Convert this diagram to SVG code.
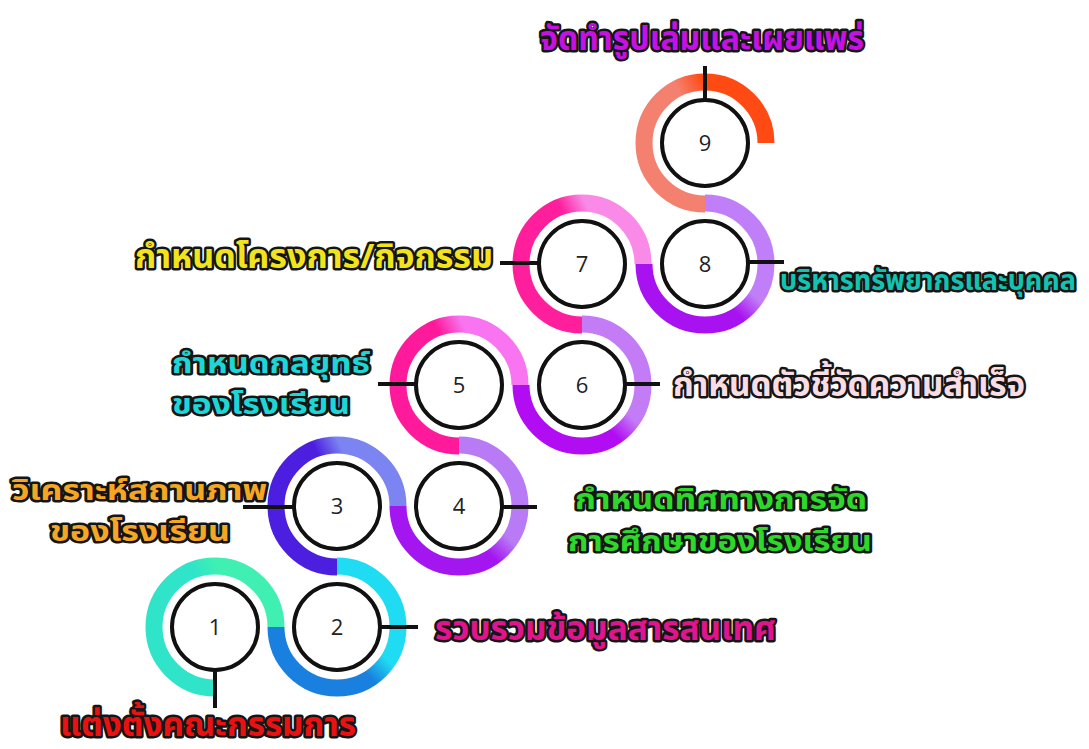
<svg xmlns="http://www.w3.org/2000/svg" width="1089" height="749" viewBox="0 0 1089 749">
<style>
.ring{fill:none;stroke-width:17;}
.disc{fill:#fff;stroke:#111;stroke-width:4;}
.num{font-family:"Open Sans","Noto Sans","DejaVu Sans",sans-serif;font-size:22px;fill:#222;text-anchor:middle;}
.lbl{font-family:"Noto Sans Thai","Noto Sans","DejaVu Sans",sans-serif;font-size:34px;font-weight:bold;stroke:#151515;stroke-width:5;stroke-linejoin:round;paint-order:stroke;}
.two{font-size:29px;}
.tick{stroke:#111;stroke-width:4;fill:none;}
</style>
<defs>
<linearGradient id="gu1" x1="0.053" y1="0.724" x2="0.947" y2="0.276"><stop offset="0.55" stop-color="#2fe4c8"/><stop offset="0.75" stop-color="#40f0b2"/></linearGradient>
<linearGradient id="gn2" x1="0.146" y1="0.854" x2="0.854" y2="0.146"><stop offset="0.4" stop-color="#1a80e0"/><stop offset="0.6" stop-color="#20dcf2"/></linearGradient>
<linearGradient id="gu3" x1="0.053" y1="0.724" x2="0.947" y2="0.276"><stop offset="0.55" stop-color="#4c1ee0"/><stop offset="0.75" stop-color="#7c84f2"/></linearGradient>
<linearGradient id="gn4" x1="0.146" y1="0.854" x2="0.854" y2="0.146"><stop offset="0.4" stop-color="#a416f0"/><stop offset="0.6" stop-color="#b87af5"/></linearGradient>
<linearGradient id="gu5" x1="0.053" y1="0.724" x2="0.947" y2="0.276"><stop offset="0.55" stop-color="#ff1a9c"/><stop offset="0.75" stop-color="#f874f0"/></linearGradient>
<linearGradient id="gn6" x1="0.146" y1="0.854" x2="0.854" y2="0.146"><stop offset="0.4" stop-color="#b20cf2"/><stop offset="0.6" stop-color="#c47cf6"/></linearGradient>
<linearGradient id="gu7" x1="0.053" y1="0.724" x2="0.947" y2="0.276"><stop offset="0.55" stop-color="#ff1f9c"/><stop offset="0.75" stop-color="#f98ae8"/></linearGradient>
<linearGradient id="gn8" x1="0.146" y1="0.854" x2="0.854" y2="0.146"><stop offset="0.4" stop-color="#a812f0"/><stop offset="0.6" stop-color="#c07ef8"/></linearGradient>
<linearGradient id="gu9" x1="0.053" y1="0.724" x2="0.947" y2="0.276"><stop offset="0.5" stop-color="#f4806f"/><stop offset="0.72" stop-color="#ff4a14"/></linearGradient>
</defs>
<rect width="1089" height="749" fill="#fff"/>

<g id="node1">
<path class="ring" stroke="url(#gu1)" d="M215,688 A61,61 0 1 1 276,627"/>
<circle class="disc" cx="215" cy="627" r="43"/>
<text class="num" x="215" y="635">1</text>
<text class="lbl" fill="#e81212" x="60" y="736" textLength="296" lengthAdjust="spacingAndGlyphs">แต่งตั้งคณะกรรมการ</text>
</g>
<g id="node2">
<path class="ring" stroke="url(#gn2)" d="M276,627 A61,61 0 1 0 337,566"/>
<circle class="disc" cx="337" cy="627" r="43"/>
<text class="num" x="337" y="635">2</text>
<text class="lbl" fill="#e0148c" x="435" y="640" textLength="341" lengthAdjust="spacingAndGlyphs">รวบรวมข้อมูลสารสนเทศ</text>
</g>
<g id="node3">
<path class="ring" stroke="url(#gu3)" d="M337,567 A61,61 0 1 1 398,506"/>
<circle class="disc" cx="337" cy="506" r="43"/>
<text class="num" x="337" y="514">3</text>
<text class="lbl two" fill="#f5a623" x="12" y="500" textLength="255" lengthAdjust="spacingAndGlyphs">วิเคราะห์สถานภาพ</text>
<text class="lbl two" fill="#f5a623" x="50" y="541" textLength="180" lengthAdjust="spacingAndGlyphs">ของโรงเรียน</text>
</g>
<g id="node4">
<path class="ring" stroke="url(#gn4)" d="M398,506 A61,61 0 1 0 459,445"/>
<circle class="disc" cx="459" cy="506" r="43"/>
<text class="num" x="459" y="514">4</text>
<text class="lbl two" fill="#2ed82a" x="575" y="509" textLength="292" lengthAdjust="spacingAndGlyphs">กำหนดทิศทางการจัด</text>
<text class="lbl two" fill="#2ed82a" x="568" y="551" textLength="304" lengthAdjust="spacingAndGlyphs">การศึกษาของโรงเรียน</text>
</g>
<g id="node5">
<path class="ring" stroke="url(#gu5)" d="M459,446 A61,61 0 1 1 520,385"/>
<circle class="disc" cx="459" cy="385" r="43"/>
<text class="num" x="459" y="393">5</text>
<text class="lbl two" fill="#1ed6d6" x="172" y="373" textLength="198" lengthAdjust="spacingAndGlyphs">กำหนดกลยุทธ์</text>
<text class="lbl two" fill="#1ed6d6" x="172" y="414" textLength="178" lengthAdjust="spacingAndGlyphs">ของโรงเรียน</text>
</g>
<g id="node6">
<path class="ring" stroke="url(#gn6)" d="M521,385 A61,61 0 1 0 582,324"/>
<circle class="disc" cx="582" cy="385" r="43"/>
<text class="num" x="582" y="393">6</text>
<text class="lbl" fill="#f9dde4" x="673" y="396" textLength="352" lengthAdjust="spacingAndGlyphs">กำหนดตัวชี้วัดความสำเร็จ</text>
</g>
<g id="node7">
<path class="ring" stroke="url(#gu7)" d="M582,325 A61,61 0 1 1 643,264"/>
<circle class="disc" cx="582" cy="264" r="43"/>
<text class="num" x="582" y="272">7</text>
<text class="lbl" fill="#f2e41c" x="135" y="268" textLength="358" lengthAdjust="spacingAndGlyphs">กำหนดโครงการ/กิจกรรม</text>
</g>
<g id="node8">
<path class="ring" stroke="url(#gn8)" d="M644,264 A61,61 0 1 0 705,203"/>
<circle class="disc" cx="705" cy="264" r="43"/>
<text class="num" x="705" y="272">8</text>
<text class="lbl" fill="#14c2b2" x="780" y="290" font-size="27.5" style="font-size:27.5px" textLength="296" lengthAdjust="spacingAndGlyphs">บริหารทรัพยากรและบุคคล</text>
</g>
<g id="node9">
<path class="ring" stroke="url(#gu9)" d="M705,204 A61,61 0 1 1 766,143"/>
<circle class="disc" cx="705" cy="143" r="43"/>
<text class="num" x="705" y="151">9</text>
<text class="lbl" fill="#c511e3" x="540" y="50" textLength="324" lengthAdjust="spacingAndGlyphs">จัดทำรูปเล่มและเผยแพร่</text>
</g>

<g id="connectors">
<line class="tick" x1="215" y1="670" x2="215" y2="708"/>
<line class="tick" x1="380" y1="627" x2="418" y2="627"/>
<line class="tick" x1="294" y1="507" x2="243" y2="507"/>
<line class="tick" x1="502" y1="507" x2="537" y2="507"/>
<line class="tick" x1="416" y1="384" x2="378" y2="384"/>
<line class="tick" x1="625" y1="384" x2="660" y2="384"/>
<line class="tick" x1="539" y1="263" x2="500" y2="263"/>
<line class="tick" x1="748" y1="262" x2="784" y2="262"/>
<line class="tick" x1="705" y1="100" x2="705" y2="66"/>
</g>
</svg>
